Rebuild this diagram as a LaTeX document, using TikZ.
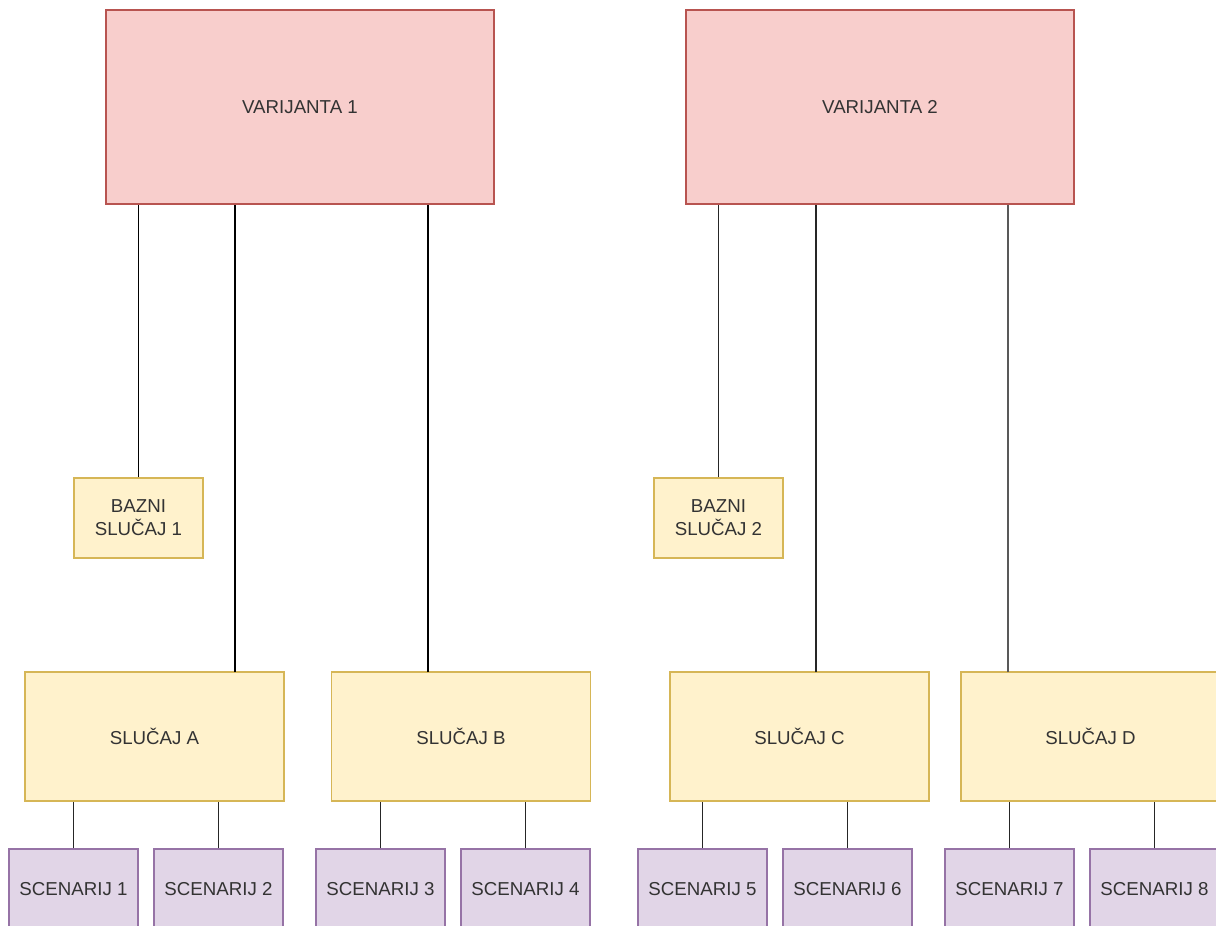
\documentclass[tikz,border=0pt]{standalone}
\usepackage{fontspec}
\setmainfont{Liberation Sans}
\definecolor{varfill}{HTML}{F8CECC}
\definecolor{varline}{HTML}{B85450}
\definecolor{slucfill}{HTML}{FFF2CC}
\definecolor{slucline}{HTML}{D6B656}
\definecolor{scenfill}{HTML}{E1D5E7}
\definecolor{scenline}{HTML}{9673A6}
\begin{document}
\begin{tikzpicture}[x=1pt,y=-1pt]
\tikzstyle{every node}+=[inner sep=0pt, align=center, text=black!80, line width=1.2pt, font=\fontsize{18.7}{23}\selectfont]
\tikzstyle{var}=[draw=varline, fill=varfill, minimum width=388pt, minimum height=194pt]
\tikzstyle{bazni}=[draw=slucline, fill=slucfill, minimum width=129pt, minimum height=80pt]
\tikzstyle{slucaj}=[draw=slucline, fill=slucfill, minimum width=259pt, minimum height=129pt]
\tikzstyle{scen}=[draw=scenline, fill=scenfill, minimum width=129pt, minimum height=80pt]
\tikzstyle{veza}=[line width=1.5pt, black!85]
\useasboundingbox (0,0) rectangle (1216,926);
\node [var] (v1) at (300,107) {VARIJANTA 1};
\node [var] (v2) at (880,107) {VARIJANTA 2};
\node [bazni] (bz1) at (138.5,518) {BAZNI\\SLUČAJ 1};
\node [bazni] (bz2) at (718.5,518) {BAZNI\\SLUČAJ 2};
\node [slucaj] (sa) at (154.5,736.5) {SLUČAJ A};
\node [slucaj] (sb) at (461,736.5) {SLUČAJ B};
\node [slucaj] (sc) at (799.5,736.5) {SLUČAJ C};
\node [slucaj] (sd) at (1090.5,736.5) {SLUČAJ D};
\node [scen] (s1) at (73.5,889) {SCENARIJ 1};
\node [scen] (s2) at (218.5,889) {SCENARIJ 2};
\node [scen] (s3) at (380.5,889) {SCENARIJ 3};
\node [scen] (s4) at (525.5,889) {SCENARIJ 4};
\node [scen] (s5) at (702.5,889) {SCENARIJ 5};
\node [scen] (s6) at (847.5,889) {SCENARIJ 6};
\node [scen] (s7) at (1009.5,889) {SCENARIJ 7};
\node [scen] (s8) at (1154.5,889) {SCENARIJ 8};
\coordinate (ua) at (235,672);
\coordinate (ub) at (428,672);
\coordinate (uc) at (816,672);
\coordinate (ud) at (1008,672);
\draw [veza, black] (bz1.north) -- (bz1.north |- v1.south);
\draw [veza, black] (ua) -- (ua |- v1.south);
\draw [veza, black] (ub) -- (ub |- v1.south);
\draw [veza] (bz2.north) -- (bz2.north |- v2.south);
\draw [veza] (uc) -- (uc |- v2.south);
\draw [veza, black!65] (ud) -- (ud |- v2.south);
\draw [veza] (s1.north) -- (s1.north |- sa.south);
\draw [veza] (s2.north) -- (s2.north |- sa.south);
\draw [veza] (s3.north) -- (s3.north |- sb.south);
\draw [veza] (s4.north) -- (s4.north |- sb.south);
\draw [veza] (s5.north) -- (s5.north |- sc.south);
\draw [veza] (s6.north) -- (s6.north |- sc.south);
\draw [veza] (s7.north) -- (s7.north |- sd.south);
\draw [veza] (s8.north) -- (s8.north |- sd.south);
\end{tikzpicture}
\end{document}
